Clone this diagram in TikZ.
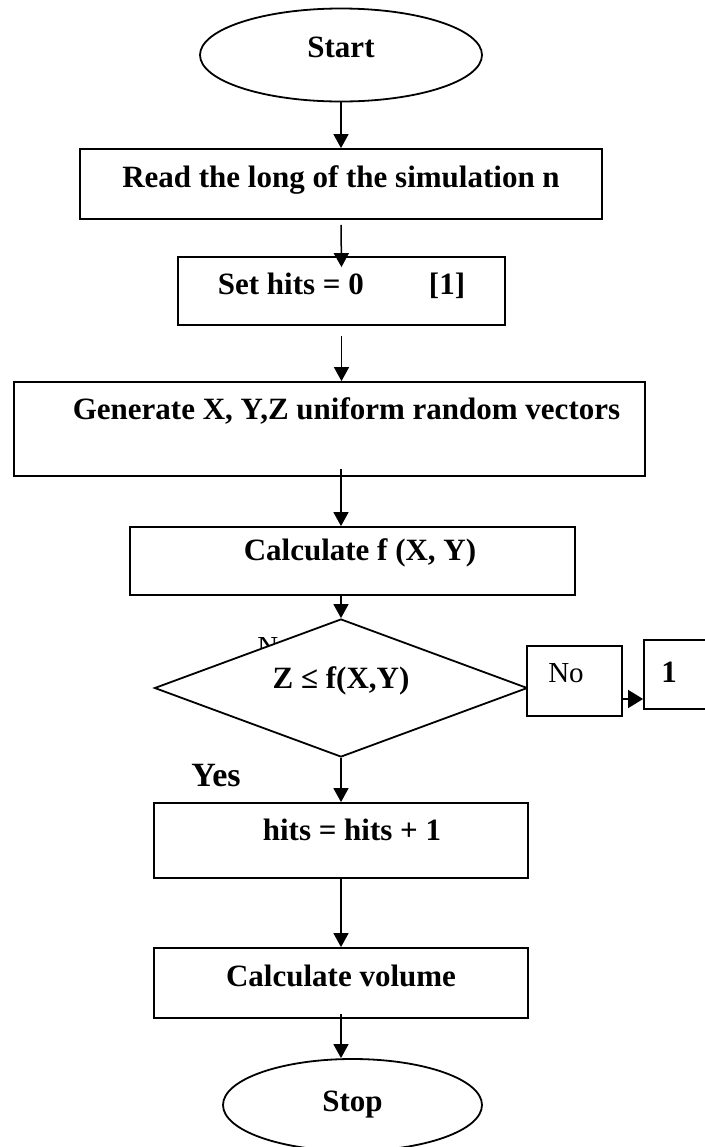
\documentclass[tikz,border=0pt]{standalone}
\usepackage{fontspec}
\setmainfont{Liberation Serif}
\usetikzlibrary{arrows.meta,positioning,shapes.geometric,calc}
\tikzset{
  procbox/.style={draw=black,line width=0.9pt,fill=white,inner sep=0pt,font=\fontsize{15.5}{18}\selectfont\bfseries,text height=11pt,text depth=3pt},
  termbox/.style={procbox,ellipse},
  decbox/.style={procbox,diamond,aspect=2.7},
  plaintxt/.style={font=\fontsize{14.5}{17}\selectfont,inner sep=0pt},
  farr/.style={-{Triangle[length=7pt,width=7.5pt]},line width=0.75pt},
  fbigarr/.style={-{Triangle[length=7.5pt,width=9pt]},line width=0.75pt}
}
\begin{document}
\begin{tikzpicture}[x=0.5pt,y=-0.5pt]
  \useasboundingbox (0,0) rectangle (705,1147);
  \coordinate (axis) at (341,0);
  \node[termbox,minimum width=141pt,minimum height=46.5pt,text depth=9pt] (start) at (341,55) {Start};
  \node[procbox,minimum width=261pt,minimum height=35pt,text depth=8pt] (read) at (341,184) {Read the long of the simulation n};
  \node[procbox,minimum width=163.5pt,minimum height=34pt,text depth=8pt] (sethits) at (341.5,291) {Set hits = 0\hspace{2.1em}[1]};
  \node[procbox,minimum width=315.5pt,minimum height=47pt,text depth=21pt] (gen) at (329.5,429) {\hspace*{17pt}Generate X, Y,Z uniform random vectors};
  \node[procbox,minimum width=222.5pt,minimum height=34pt,text depth=12pt] (calcf) at (352.5,561) {\hspace*{7.5pt}Calculate f (X, Y)};
  \node[plaintxt] (nohid) at (275,647) {No};
  \node[decbox,minimum width=186.5pt,minimum height=69pt,text depth=11pt] (dec) at (341,688) {Z ≤ f(X,Y)};
  \node[procbox,plaintxt,inner sep=0pt,minimum width=47.5pt,minimum height=35pt,text depth=10pt] (no) at (574.5,681) {No\hspace*{8.5pt}};
  \node[procbox,minimum width=34pt,minimum height=34.5pt] (one) at (678,674.5) {1\hspace*{9pt}};
  \node[font=\fontsize{17}{20}\selectfont\bfseries] (yes) at (216,776) {Yes};
  \node[procbox,minimum width=187pt,minimum height=37.5pt,text depth=11.5pt] (hits) at (341,840.5) {\hspace*{11pt}hits = hits + 1};
  \node[procbox,minimum width=187pt,minimum height=35pt,text depth=8pt] (vol) at (341,983) {Calculate volume};
  \node[termbox,minimum width=129.5pt,minimum height=46pt,text depth=5pt] (stop) at (352.5,1105) {Stop};
  \draw[farr] (start) -- (read);
  \draw[farr] ([yshift=-2.5pt]read.south) -- ([yshift=-5.5pt]sethits.north);
  \draw[farr] ([yshift=-5pt]sethits.south) -- (gen.north -| sethits.south);
  \draw[farr] ($(gen.south -| axis)+(0,-8)$) -- (calcf.north -| axis);
  \draw[farr] (calcf.south -| axis) -- (dec.north);
  \draw[farr] (dec.south) -- (hits.north);
  \draw[farr] (hits) -- (vol);
  \draw[farr] ($(vol.south)+(0,-5)$) -- (vol.south |- stop.north);
  \coordinate (noout) at ($(no.east)+(0,18)$);
  \draw[fbigarr] (noout) -- (noout -| one.west);
\end{tikzpicture}
\end{document}
